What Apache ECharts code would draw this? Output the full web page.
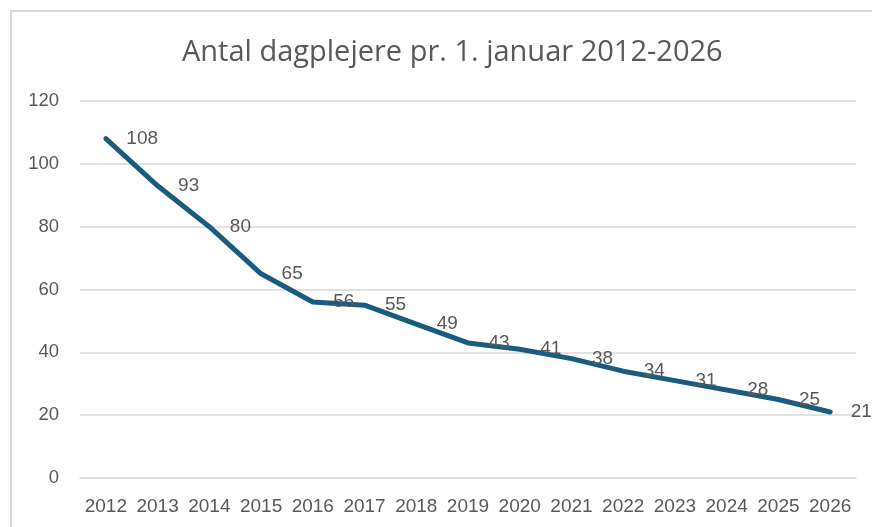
<!DOCTYPE html>
<html>
<head>
<meta charset="utf-8">
<script src="https://cdn.jsdelivr.net/npm/echarts@6/dist/echarts.min.js"></script>
<style>
  html, body { margin: 0; padding: 0; background: #fff; }
  #frame {
    position: absolute; left: 10px; top: 10px; width: 900px; height: 600px;
    border: 2px solid #d9d9d9; box-sizing: border-box;
  }
  #chart { position: absolute; left: 0; top: 0; width: 872px; height: 527px; }
</style>
</head>
<body>
<div id="frame"></div>
<div id="chart"></div>
<script>
// 年份 (x轴)
const years = ['2012', '2013', '2014', '2015', '2016', '2017', '2018', '2019',
  '2020', '2021', '2022', '2023', '2024', '2025', '2026']
// 每年1月1日的日托人数
const counts = [108, 93, 80, 65, 56, 55, 49, 43, 41, 38, 34, 31, 28, 25, 21]

const labelColor = '#595959'
const lineColor = '#1a5c7e'

const myChart = echarts.init(document.getElementById('chart'), null, { renderer: 'canvas' })
myChart.setOption({
  animation: false,
  title: {
    text: 'Antal dagplejere pr. 1. januar 2012-2026',
    left: 177,
    top: 33,
    textStyle: {
      fontFamily: 'Open Sans',
      fontWeight: 'normal',
      fontSize: 29,
      color: labelColor
    }
  },
  grid: {
    left: 80,
    right: 16,
    top: 101,
    bottom: 49
  },
  xAxis: {
    type: 'category',
    data: years,
    axisLine: { lineStyle: { color: '#d9d9d9', width: 1.5 } },
    axisTick: { show: false },
    axisLabel: {
      interval: 0,
      color: labelColor,
      fontFamily: 'Liberation Sans',
      fontSize: 19,
      margin: 19
    }
  },
  yAxis: {
    type: 'value',
    min: 0,
    max: 120,
    interval: 20,
    axisLine: { show: false },
    axisTick: { show: false },
    axisLabel: {
      color: labelColor,
      fontFamily: 'Liberation Sans',
      fontSize: 18.5,
      margin: 21
    },
    splitLine: { lineStyle: { color: '#d9d9d9', width: 1.5 } }
  },
  series: [{
    type: 'line',
    data: counts,
    symbol: 'circle',
    symbolSize: 1,
    showSymbol: true,
    itemStyle: { color: lineColor },
    lineStyle: { color: lineColor, width: 5, cap: 'round', join: 'round' },
    label: {
      show: true,
      position: 'right',
      distance: 20,
      color: labelColor,
      fontFamily: 'Liberation Sans',
      fontSize: 19
    },
    labelLayout: { hideOverlap: false }
  }]
})
</script>
</body>
</html>
